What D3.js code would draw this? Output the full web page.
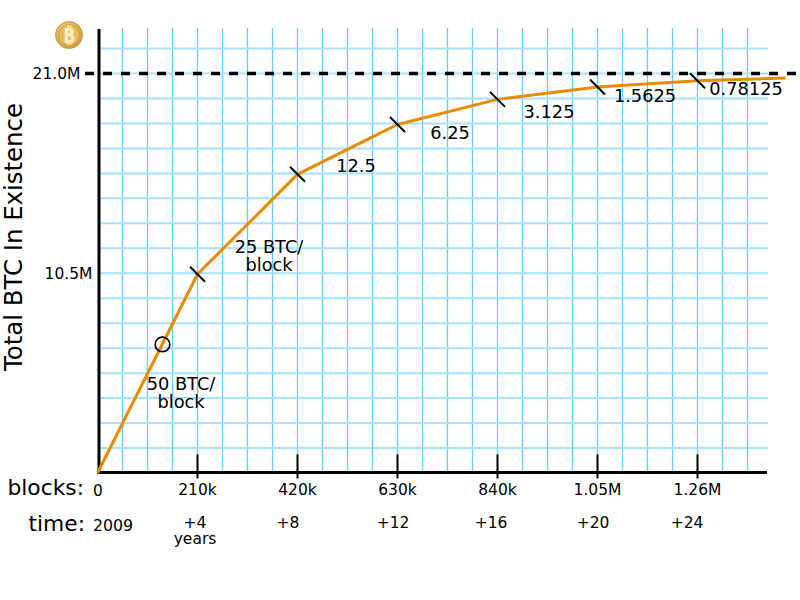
<!DOCTYPE html>
<html><head><meta charset="utf-8">
<script src="https://cdnjs.cloudflare.com/ajax/libs/d3/7.8.5/d3.min.js"></script>
<style>html,body{margin:0;padding:0;background:#fff}svg{display:block}text{font-family:"DejaVu Sans",sans-serif;fill:#000}</style>
</head><body><svg id="c" width="800" height="600"></svg>
<script>
const halvingBlocks=[0,210000,420000,630000,840000,1050000,1260000,1445000];
const totalSupply=[0,10.45,15.7,18.32,19.64,20.29,20.62,20.76];
const blockTickValues=[210000,420000,630000,840000,1050000,1260000];
const blockTickLabels=["210k","420k","630k","840k","1.05M","1.26M"];
const timeLabels=["+4","+8","+12","+16","+20","+24"];
const timeLabelBlocks=[204750,400050,620550,826350,1040550,1237950];
const rewardLabels=[["50 BTC/","block"],["25 BTC/","block"],["12.5"],["6.25"],["3.125"],["1.5625"],["0.78125"]];
const rewardLabelBlocks=[175350,360150,542850,740250,948150,1149750,1361850];
const rewardLabelSupply=[4.36,11.57,15.82,17.56,18.66,19.5,19.87];
const horizontalGrid=d3.range(1.3125,22.4,1.3125);
const limitSupply=21;
const circleBlocks=136500;

const svg=d3.select("#c");
const x=d3.scaleLinear().domain([0,210000]).range([97.5,197.5]);
const y=d3.scaleLinear().domain([0,21]).range([473,73.5]);

svg.append("g").selectAll("line").data(d3.range(1,27).map(i=>i*52500)).join("line")
 .attr("x1",d=>x(d)).attr("x2",d=>x(d)).attr("y1",28).attr("y2",472)
 .attr("stroke","#66ccff").attr("stroke-width",1.3);
svg.append("g").selectAll("line").data(horizontalGrid).join("line")
 .attr("x1",99).attr("x2",768).attr("y1",d=>y(d)).attr("y2",d=>y(d))
 .attr("stroke","#a6e1ff").attr("stroke-width",2);

svg.append("line").attr("x1",85).attr("x2",797).attr("y1",y(limitSupply)).attr("y2",y(limitSupply))
 .attr("stroke","#000").attr("stroke-width",3.4).attr("stroke-dasharray","9 9");

svg.append("line").attr("x1",99).attr("x2",99).attr("y1",29).attr("y2",474).attr("stroke","#000").attr("stroke-width",3);
svg.append("line").attr("x1",97.5).attr("x2",767).attr("y1",472.5).attr("y2",472.5).attr("stroke","#000").attr("stroke-width",3);

const xAxis=d3.axisBottom(x).offset(0).tickValues(blockTickValues).tickFormat((d,i)=>blockTickLabels[i]).tickSizeOuter(0).tickSizeInner(0);
const gx=svg.append("g").attr("transform","translate(0,472.5)").call(xAxis);
gx.select(".domain").remove();
gx.selectAll(".tick line").attr("y1",-18).attr("y2",6).attr("stroke","#000").attr("stroke-width",2);
gx.selectAll(".tick text").attr("y",17.5).attr("dy",".32em").style("font-family",'"DejaVu Sans"').style("font-size","15.5px").attr("fill","#000");

svg.append("path").datum(halvingBlocks.map((b,i)=>[b,totalSupply[i]]))
 .attr("fill","none").attr("stroke","#e98a00").attr("stroke-width",3)
 .attr("d",d3.line().x(d=>x(d[0])).y(d=>y(d[1])));

svg.append("g").selectAll("line").data(halvingBlocks.slice(1,7).map((b,i)=>[b,totalSupply[i+1]])).join("line")
 .attr("x1",d=>x(d[0])-7.5).attr("x2",d=>x(d[0])+7.5)
 .attr("y1",d=>y(d[1])-7.5).attr("y2",d=>y(d[1])+7.5)
 .attr("stroke","#000").attr("stroke-width",2);

svg.append("circle").attr("cx",x(circleBlocks)).attr("cy",y(6.76)).attr("r",7.3)
 .attr("fill","none").attr("stroke","#000").attr("stroke-width",1.7);

rewardLabels.forEach((lines,i)=>{
 const t=svg.append("text").attr("x",x(rewardLabelBlocks[i])).attr("y",y(rewardLabelSupply[i]))
  .attr("text-anchor","middle").style("font-size","17.8px");
 lines.forEach((s,j)=>t.append("tspan").attr("x",x(rewardLabelBlocks[i])).attr("dy",j?18:0).text(s));
});

svg.append("text").attr("x",80.5).attr("y",79).attr("text-anchor","end").style("font-size","15.5px").text("21.0M");
svg.append("text").attr("x",92.5).attr("y",279).attr("text-anchor","end").style("font-size","15.5px").text("10.5M");
svg.append("text").attr("transform","translate(22,237) rotate(-90)").attr("text-anchor","middle").style("font-size","24.4px").text("Total BTC In Existence");

svg.append("text").attr("x",84).attr("y",495).attr("text-anchor","end").style("font-size","21.8px").text("blocks:");
svg.append("text").attr("x",85).attr("y",531).attr("text-anchor","end").style("font-size","21.8px").text("time:");
svg.append("text").attr("x",98).attr("y",496).attr("text-anchor","middle").style("font-size","15.5px").text("0");
svg.append("text").attr("x",113).attr("y",531).attr("text-anchor","middle").style("font-size","15.8px").text("2009");
svg.append("g").selectAll("text").data(timeLabels).join("text")
 .attr("x",(d,i)=>x(timeLabelBlocks[i]))
 .attr("y",527.5).attr("text-anchor","middle").style("font-size","15.5px").text(d=>d);
svg.append("text").attr("x",195).attr("y",544).attr("text-anchor","middle").style("font-size","15.5px").text("years");

const defs=svg.append("defs");
const g=defs.append("radialGradient").attr("id","coin").attr("cx","40%").attr("cy","35%").attr("r","70%");
g.append("stop").attr("offset","0%").attr("stop-color","#f6dc8a");
g.append("stop").attr("offset","100%").attr("stop-color","#cf9a38");
svg.append("circle").attr("cx",69).attr("cy",35).attr("r",13.5).attr("fill","url(#coin)").attr("stroke","#b98a35").attr("stroke-width",.8);
svg.append("circle").attr("cx",69).attr("cy",35).attr("r",10.5).attr("fill","#e6bb5e").attr("stroke","#c9963a").attr("stroke-width",.8);
svg.append("text").attr("x",69).attr("y",42.5).attr("text-anchor","middle").style("font-family",'"Noto Sans","DejaVu Sans"').style("font-size","21px").style("font-weight","bold").style("fill","#fbeec4").text("₿");
</script></body></html>
